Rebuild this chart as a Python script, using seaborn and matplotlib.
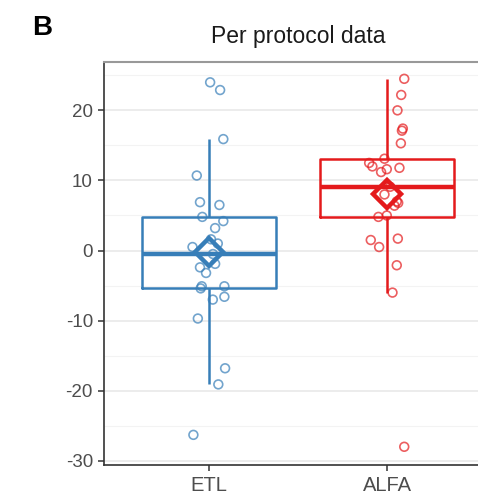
import numpy as np
import pandas as pd
import matplotlib
matplotlib.use("Agg")
import matplotlib.pyplot as plt
import seaborn as sns
from matplotlib.ticker import MultipleLocator

# ---- data ----
groups = ["ETL", "ALFA"]
etl_values = [24.0, 22.9, 15.9, 10.7, 6.9, 6.5, 4.8, 4.2, 3.2, 1.6, 1.0, 0.5,
              -0.5, -1.9, -2.4, -3.2, -5.1, -5.4, -5.1, -7.0, -6.6, -9.7,
              -16.8, -19.1, -26.3]
etl_jitter = [0.006, 0.062, 0.080, -0.069, -0.051, 0.058, -0.038, 0.080, 0.034,
              0.011, 0.049, -0.093, 0.022, 0.034, -0.051, -0.017, -0.041, -0.047,
              0.086, 0.021, 0.086, -0.063, 0.090, 0.052, -0.088]
alfa_values = [24.5, 22.2, 20.0, 17.4, 17.1, 15.3, 13.1, 12.5, 12.0, 11.8, 11.6,
               11.2, 9.1, 8.0, 7.0, 6.8, 6.4, 5.0, 4.8, 1.7, 1.5, 0.5, -2.1,
               -6.0, -28.0]
alfa_jitter = [0.096, 0.079, 0.058, 0.088, 0.083, 0.077, -0.015, -0.101, -0.083,
               0.069, -0.002, -0.034, 0.017, -0.015, 0.054, 0.062, 0.041, -0.002,
               -0.049, 0.060, -0.092, -0.045, 0.054, 0.030, 0.096]
colors = {"ETL": "#377EB8", "ALFA": "#E41A1C"}
y_ticks = [20, 10, 0, -10, -20, -30]
title = "Per protocol data"
panel_label = "B"

df = pd.DataFrame({
    "group": ["ETL"] * len(etl_values) + ["ALFA"] * len(alfa_values),
    "value": etl_values + alfa_values,
    "jit": etl_jitter + alfa_jitter,
})
df["xpos"] = df["group"].map({g: i for i, g in enumerate(groups)}) + df["jit"]

sns.set_theme(style="white")
plt.rcParams["font.family"] = ["Liberation Sans", "DejaVu Sans"]
plt.rcParams["axes.unicode_minus"] = False

fig = plt.figure(figsize=(4.78, 4.95), dpi=100)
ax = fig.add_axes([104 / 478, 30 / 495, 390 / 478, 403 / 495])

ax.yaxis.set_minor_locator(MultipleLocator(5))
ax.grid(True, which="major", color="#EBEBEB", lw=1.3, zorder=0)
ax.grid(True, which="minor", axis="y", color="#F3F3F3", lw=0.8, zorder=0)
ax.set_axisbelow(True)

sns.boxplot(data=df, x="group", y="value", hue="group", order=groups,
            hue_order=groups, palette=colors, fill=False, width=0.75,
            showfliers=False, showcaps=False, linewidth=1.8, legend=False,
            medianprops=dict(linewidth=3.2), ax=ax, zorder=2)

for g in groups:
    sub = df[df["group"] == g]
    ax.scatter(sub["xpos"], sub["value"], s=40, facecolors="none",
               edgecolors=colors[g], linewidths=1.2, alpha=0.7, zorder=3)
    ax.plot([groups.index(g)], [np.mean(sub["value"])], marker="D",
            markersize=14, markerfacecolor="none", markeredgecolor=colors[g],
            markeredgewidth=3.2, linestyle="none", zorder=4)

ax.set_xlim(-0.59, 1.6)
ax.set_ylim(-30.6, 26.9)
ax.set_yticks(y_ticks)
ax.set_xlabel("")
ax.set_ylabel("")
ax.tick_params(axis="both", which="major", length=4, width=1.1, color="#333333",
               labelcolor="#4D4D4D", left=True, bottom=True)
ax.tick_params(axis="y", which="major", labelsize=13.5, pad=4)
ax.tick_params(axis="x", which="major", labelsize=14.5, pad=4)
ax.tick_params(axis="y", which="minor", length=0)
for side in ["left", "bottom"]:
    ax.spines[side].set_color("#333333")
    ax.spines[side].set_linewidth(1.2)
ax.spines["top"].set_color("#999999")
ax.spines["top"].set_linewidth(1.5)
ax.spines["right"].set_visible(False)

fig.text(298 / 478, 1 - 37 / 495, title, ha="center", va="center", fontsize=16.5,
         color="#1A1A1A")
fig.text(32 / 478, 1 - 28 / 495, panel_label, ha="left", va="center", fontsize=20,
         fontweight="bold", color="black")

fig.savefig("out.png", dpi=100)
